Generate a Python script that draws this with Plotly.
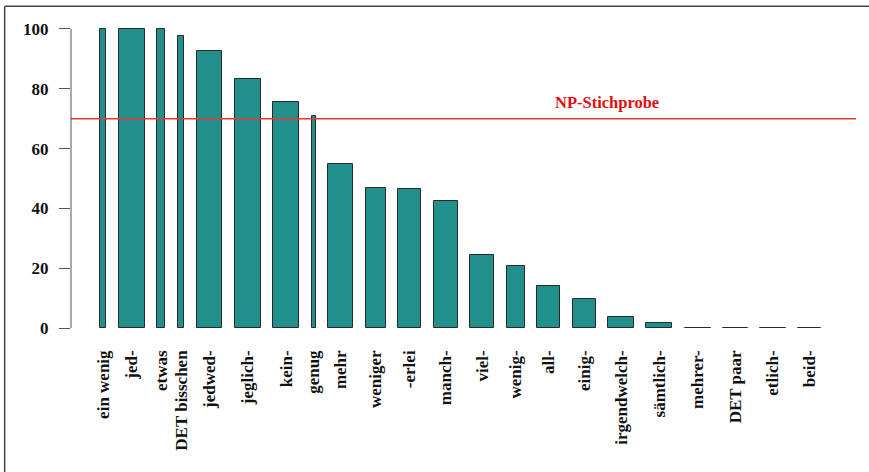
import plotly.graph_objects as go
import numpy as np

categories = ["ein wenig", "jed-", "etwas", "DET bisschen", "jedwed-", "jeglich-", "kein-",
              "genug", "mehr", "weniger", "-erlei", "manch-", "viel-", "wenig-", "all-",
              "einig-", "irgendwelch-", "sämtlich-", "mehrer-", "DET paar", "etlich-", "beid-"]
values = [100, 100, 100, 97.8, 92.7, 83.4, 75.6, 70.9, 54.7, 46.8, 46.6, 42.6, 24.4, 20.8,
          14.1, 9.8, 3.8, 1.7, 0, 0, 0, 0]
# relative bar widths (sample size)
bar_widths = [6.3, 26, 8.3, 6.7, 25.7, 26.3, 26, 4.3, 25, 20, 23.3, 23.7, 24.3, 18.3, 23,
              23.3, 25.7, 26, 26, 24.7, 25.7, 23.3]
reference_value = 70
reference_label = "NP-Stichprobe"

gap = 12.4
w = np.array(bar_widths, dtype=float)
lefts = 29 + np.concatenate([[0], np.cumsum(w[:-1] + gap)])
centers = lefts + w / 2
xmax = lefts[-1] + w[-1] + 34.7

FONT = "Liberation Serif, Times New Roman, serif"

fig = go.Figure()
fig.add_trace(go.Bar(
    x=centers, y=values, width=w,
    marker=dict(color="#21908C", line=dict(color="#2a2a2a", width=1)),
    hoverinfo="skip",
))

fig.add_shape(type="line", xref="x", yref="y", x0=0, x1=xmax, y0=reference_value, y1=reference_value,
              line=dict(color="#EE3535", width=1.5))
fig.add_annotation(x=537, y=75.3, xref="x", yref="y", text=reference_label, showarrow=False,
                   font=dict(family=FONT, size=16.5, color="#E01010", weight="bold"),
                   xanchor="center", yanchor="middle")

# y axis line only spanning 0..100 (R style)
fig.add_shape(type="line", xref="paper", yref="y", x0=0, x1=0, y0=0, y1=100,
              line=dict(color="#555555", width=1))

# outer frame (top and left)
fig.add_shape(type="line", xref="paper", yref="paper", x0=-0.0845, x1=1.02, y0=1.033, y1=1.033,
              line=dict(color="#444444", width=1.5))
fig.add_shape(type="line", xref="paper", yref="paper", x0=-0.0845, x1=-0.0845, y0=1.033, y1=-0.42,
              line=dict(color="#444444", width=1.5))

fig.update_layout(
    width=869, height=472,
    margin=dict(l=71, r=13, t=17, b=132),
    paper_bgcolor="white", plot_bgcolor="white",
    showlegend=False,
    bargap=0,
)
fig.update_xaxes(
    range=[0, xmax], tickmode="array", tickvals=list(centers), ticktext=categories,
    tickangle=-90, ticks="", showline=False, showgrid=False, zeroline=False,
    tickfont=dict(family=FONT, size=17, color="#111111", weight="bold"),
    ticklabelstandoff=6,
)
fig.update_yaxes(
    range=[-4, 104], tickmode="array", tickvals=[0, 20, 40, 60, 80, 100],
    ticks="outside", ticklen=11, tickcolor="#555555", tickwidth=1,
    showline=False, showgrid=False, zeroline=False,
    tickfont=dict(family=FONT, size=17, color="#111111", weight="bold"),
    ticklabelstandoff=7,
)

fig.write_html("out.html", config={"displayModeBar": False},
               post_script="document.body.style.margin='0';")
